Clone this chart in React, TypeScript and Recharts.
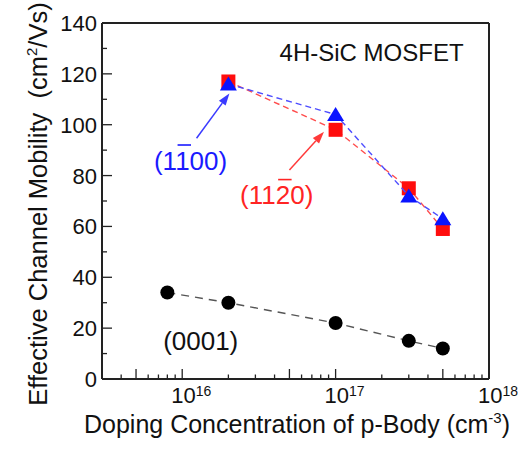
import { ScatterChart, Scatter, XAxis, YAxis, ReferenceLine, ReferenceDot } from "recharts";

const FONT = '"Liberation Sans", Arial, Helvetica, sans-serif';
const AXIS = "#222";

// p-body doping (cm^-3) vs effective channel mobility (cm^2/Vs)
const DOPING_0001 = [8e15, 2e16, 1e17, 3e17, 5e17];
const MU_0001 = [34, 30, 22, 15, 12];
const DOPING_PLANES = [2e16, 1e17, 3e17, 5e17];
const MU_1120 = [117, 98, 75, 59];
const MU_1100 = [116, 104, 72, 63];

// axis ticks
const X_TICKS = [
  4e15, 5e15, 6e15, 7e15, 8e15, 9e15, 1e16,
  2e16, 3e16, 4e16, 5e16, 6e16, 7e16, 8e16, 9e16, 1e17,
  2e17, 3e17, 4e17, 5e17, 6e17, 7e17, 8e17, 9e17, 1e18,
];
const Y_TICKS = [0, 10, 20, 30, 40, 50, 60, 70, 80, 90, 100, 110, 120, 130, 140];

const zip = (xs: number[], ys: number[]) => xs.map((x, i) => ({ x, y: ys[i] }));

function tickKind(v: number) {
  const exp = Math.floor(Math.log10(v) + 1e-9);
  const mant = Math.round(v / 10 ** exp);
  return { exp, major: mant === 1, five: mant === 5 };
}

function BottomTick({ x, y, payload }: any) {
  const { exp, major, five } = tickKind(payload.value);
  const len = major || five ? 10 : 4.5;
  return (
    <g>
      <line x1={x} x2={x} y1={y} y2={y - len} stroke={AXIS} strokeWidth={1.3} />
      {major && (
        <text x={x - 11} y={y + 24} fontSize={22} fontFamily={FONT} fill="#111">
          10
          <tspan dy={-7} fontSize={14}>{exp}</tspan>
        </text>
      )}
    </g>
  );
}

function TopTick({ x, y, payload }: any) {
  const { major, five } = tickKind(payload.value);
  const len = major || five ? 10 : 4.5;
  return <line x1={x} x2={x} y1={y} y2={y + len} stroke={AXIS} strokeWidth={1.3} />;
}

function LeftTick({ x, y, payload }: any) {
  const major = payload.value % 20 === 0;
  return (
    <g>
      <line x1={x} x2={x + (major ? 10 : 5)} y1={y} y2={y} stroke={AXIS} strokeWidth={1.3} />
      {major && (
        <text x={x - 5} y={y + 8} textAnchor="end" fontSize={22} fontFamily={FONT} fill="#111">
          {payload.value}
        </text>
      )}
    </g>
  );
}

function RightTick({ x, y, payload }: any) {
  const major = payload.value % 20 === 0;
  return <line x1={x} x2={x - (major ? 10 : 5)} y1={y} y2={y} stroke={AXIS} strokeWidth={1.3} />;
}

const Circle = (p: any) => <circle cx={p.cx} cy={p.cy} r={7} fill="#000" />;
const Square = (p: any) => <rect x={p.cx - 7} y={p.cy - 7} width={14} height={14} fill="#ff0d0d" />;
const Triangle = (p: any) => (
  <polygon
    points={`${p.cx},${p.cy - 7.5} ${p.cx - 8.5},${p.cy + 6.5} ${p.cx + 8.5},${p.cy + 6.5}`}
    fill="#0a14ff"
  />
);

function Arrow({ x1, y1, x2, y2, color }: any) {
  const a = Math.atan2(y2 - y1, x2 - x1);
  const L = 12;
  const W = 4.2;
  const bx = x2 - L * Math.cos(a);
  const by = y2 - L * Math.sin(a);
  const px = -Math.sin(a) * W;
  const py = Math.cos(a) * W;
  return (
    <g>
      <line x1={x1} y1={y1} x2={bx} y2={by} stroke={color} strokeWidth={1.5} />
      <polygon points={`${x2},${y2} ${bx + px},${by + py} ${bx - px},${by - py}`} fill={color} />
    </g>
  );
}

// Miller index label, with the bar drawn over one digit
const CHAR_W: Record<string, number> = { "(": 0.333, ")": 0.333 };
function Miller({ cx, cy, text, bar, color }: any) {
  const fs = 26;
  const w = (c: string) => (CHAR_W[c] ?? 0.556) * fs;
  const chars = [...text];
  const total = chars.reduce((s, c) => s + w(c), 0);
  const left = Number(cx) - total / 2;
  const base = Number(cy) + 0.358 * fs;
  const barX = left + chars.slice(0, bar).reduce((s, c) => s + w(c), 0);
  const barY = base - 0.716 * fs - 6;
  return (
    <g>
      <text x={left} y={base} fill={color} fontSize={fs} fontFamily={FONT}>
        {text}
      </text>
      {bar >= 0 && (
        <line x1={barX + 0.5} x2={barX + w(chars[bar]) - 0.5} y1={barY} y2={barY} stroke={color} strokeWidth={1.6} />
      )}
    </g>
  );
}

export default function App() {
  return (
    <div style={{ position: "absolute", left: 0, top: 0, background: "#fff" }}>
      <ScatterChart width={532} height={452} margin={{ top: 13, right: 33, bottom: 33, left: 42 }}>
        <XAxis
          type="number"
          dataKey="x"
          scale="log"
          domain={[3e15, 1e18]}
          allowDataOverflow
          ticks={X_TICKS}
          interval={0}
          height={40}
          tickSize={0}
          tickMargin={0}
          tickLine={false}
          tick={(p: any) => <BottomTick {...p} />}
          axisLine={{ stroke: AXIS, strokeWidth: 2 }}
        />
        <XAxis
          xAxisId="top"
          orientation="top"
          type="number"
          scale="log"
          domain={[3e15, 1e18]}
          allowDataOverflow
          ticks={X_TICKS}
          interval={0}
          height={10}
          tickSize={0}
          tickMargin={0}
          tickLine={false}
          tick={(p: any) => <TopTick {...p} />}
          axisLine={{ stroke: AXIS, strokeWidth: 2 }}
        />
        <YAxis
          type="number"
          dataKey="y"
          domain={[0, 140]}
          ticks={Y_TICKS}
          interval={0}
          width={60}
          tickSize={0}
          tickMargin={0}
          tickLine={false}
          tick={(p: any) => <LeftTick {...p} />}
          axisLine={{ stroke: AXIS, strokeWidth: 2 }}
        />
        <YAxis
          yAxisId="right"
          orientation="right"
          type="number"
          domain={[0, 140]}
          ticks={Y_TICKS}
          interval={0}
          width={10}
          tickSize={0}
          tickMargin={0}
          tickLine={false}
          tick={(p: any) => <RightTick {...p} />}
          axisLine={{ stroke: AXIS, strokeWidth: 2 }}
        />

        <Scatter
          name="(0001)"
          data={zip(DOPING_0001, MU_0001)}
          shape={Circle}
          line={{ stroke: "#555", strokeWidth: 1.4, strokeDasharray: "8 6" }}
          lineType="joint"
          isAnimationActive={false}
        />
        <Scatter
          name="(11-20)"
          data={zip(DOPING_PLANES, MU_1120)}
          shape={Square}
          line={{ stroke: "#ff4d4d", strokeWidth: 1.4, strokeDasharray: "6 4" }}
          lineType="joint"
          isAnimationActive={false}
        />
        <Scatter
          name="(1-100)"
          data={zip(DOPING_PLANES, MU_1100)}
          shape={Triangle}
          line={{ stroke: "#4d4dff", strokeWidth: 1.4, strokeDasharray: "6 4" }}
          lineType="joint"
          isAnimationActive={false}
        />

        <ReferenceLine
          segment={[{ x: 1.24e16, y: 94.7 }, { x: 2.03e16, y: 112.3 }]}
          shape={(p: any) => <Arrow {...p} color="#3a3aff" />}
        />
        <ReferenceLine
          segment={[{ x: 5e16, y: 82.2 }, { x: 8.4e16, y: 97.2 }]}
          shape={(p: any) => <Arrow {...p} color="#ff3a3a" />}
        />

        <ReferenceDot x={1.15e16} y={86} r={1}
          shape={(p: any) => <Miller cx={p.cx} cy={p.cy} text="(1100)" bar={2} color="#1a1aff" />} />
        <ReferenceDot x={4.19e16} y={72.4} r={1}
          shape={(p: any) => <Miller cx={p.cx} cy={p.cy} text="(1120)" bar={3} color="#ff2424" />} />
        <ReferenceDot x={1.32e16} y={14.9} r={1}
          shape={(p: any) => <Miller cx={p.cx} cy={p.cy} text="(0001)" bar={-1} color="#111" />} />
        <ReferenceDot x={6.83e17} y={128.4} r={1}
          shape={(p: any) => (
            <text x={p.cx} y={p.cy + 8.6} textAnchor="end" fontSize={24} fontFamily={FONT} fill="#111">
              4H-SiC MOSFET
            </text>
          )} />

        <text x={297} y={433} textAnchor="middle" fontSize={25} fontFamily={FONT} fill="#111">
          Doping Concentration of p-Body (cm
          <tspan dy={-10} fontSize={15}>-3</tspan>
          <tspan dy={10}>)</tspan>
        </text>
        <text
          x={47}
          y={204}
          transform="rotate(-90 47 204)"
          textAnchor="middle"
          fontSize={25.5}
          fontFamily={FONT}
          fill="#111"
          style={{ whiteSpace: "pre" }}
        >
          {"Effective Channel Mobility  (cm"}
          <tspan dy={-10} fontSize={15}>2</tspan>
          <tspan dy={10}>/Vs)</tspan>
        </text>
      </ScatterChart>
    </div>
  );
}
